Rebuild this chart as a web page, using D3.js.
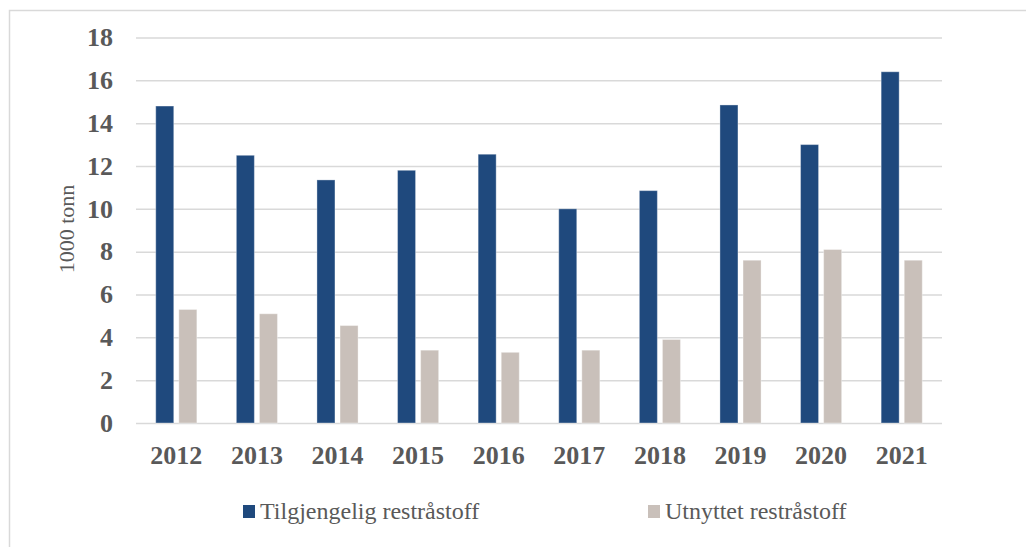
<!DOCTYPE html>
<html>
<head>
<meta charset="utf-8">
<script src="https://cdn.jsdelivr.net/npm/d3@7"></script>
<style>
  body { margin: 0; background: #fff; }
  svg { display: block; }
  text { font-family: "Liberation Serif", "Times New Roman", serif; fill: #595959; }
</style>
</head>
<body>
<svg class="chart" width="1026" height="547"></svg>
<script>
const years = ['2012', '2013', '2014', '2015', '2016', '2017', '2018', '2019', '2020', '2021'];
const tilgjengelig = [14.8, 12.5, 11.35, 11.8, 12.55, 10.0, 10.85, 14.85, 13.0, 16.4];
const utnyttet = [5.3, 5.1, 4.55, 3.4, 3.3, 3.4, 3.9, 7.6, 8.1, 7.6];
const seriesNames = ['Tilgjengelig restråstoff', 'Utnyttet restråstoff'];
const seriesColors = ['#1f497d', '#c9c0ba'];
const yTicks = [0, 2, 4, 6, 8, 10, 12, 14, 16, 18];

const startApp = () => {
  const svg = d3.select('.chart');
  const plot = { left: 136, right: 942, top: 37.5, bottom: 423 };

  // outer frame (only top and left visible)
  svg.append('path')
    .attr('d', 'M9.5,547 V10.5 H1026')
    .attr('fill', 'none')
    .attr('stroke', '#d9d9d9')
    .attr('stroke-width', 1.5);

  const x0 = d3.scaleBand().domain(years).range([plot.left, plot.right])
    .paddingInner(0.49).paddingOuter(0.245);
  const x1 = d3.scaleBand().domain([0, 1]).range([0, x0.bandwidth()]).paddingInner(0.22);
  const y = d3.scaleLinear().domain([0, 18]).range([plot.bottom, plot.top]);

  // gridlines + y labels
  const yAxis = d3.axisLeft(y).tickValues(yTicks).tickSize(-(plot.right - plot.left)).tickPadding(23);
  const gy = svg.append('g').attr('transform', `translate(${plot.left},0)`).call(yAxis)
    .attr('font-size', null).attr('font-family', null);
  gy.select('.domain').remove();
  gy.selectAll('.tick line').attr('stroke', '#d9d9d9').attr('stroke-width', 1.5);
  gy.selectAll('.tick text')
    .attr('font-size', 26).attr('font-weight', 'bold')
    .attr('fill', '#595959');

  // bars
  const series = [tilgjengelig, utnyttet];
  const groups = svg.append('g').selectAll('g')
    .data(years)
    .join('g')
    .attr('transform', d => `translate(${x0(d)},0)`);

  groups.selectAll('rect')
    .data((d, i) => series.map((s, k) => ({ k, v: s[i] })))
    .join('rect')
    .attr('x', d => x1(d.k))
    .attr('y', d => y(d.v))
    .attr('width', x1.bandwidth())
    .attr('height', d => y(0) - y(d.v))
    .attr('fill', d => seriesColors[d.k])
    .attr('stroke', 'rgba(255,255,255,0.35)')
    .attr('stroke-width', 1);

  // x labels
  const xAxis = d3.axisBottom(x0).tickSize(0).tickPadding(23);
  const gx = svg.append('g').attr('transform', `translate(0,${plot.bottom})`).call(xAxis)
    .attr('font-size', null).attr('font-family', null);
  gx.select('.domain').remove();
  gx.selectAll('.tick text')
    .attr('font-size', 26).attr('font-weight', 'bold')
    .attr('fill', '#595959');

  // y axis title
  svg.append('text')
    .attr('transform', 'translate(74,229) rotate(-90)')
    .attr('text-anchor', 'middle')
    .attr('font-size', 22)
    .text('1000 tonn');

  // legend
  const legendX = [243, 648];
  const legend = svg.append('g').selectAll('g')
    .data(seriesNames)
    .join('g')
    .attr('transform', (d, i) => `translate(${legendX[i]},505)`);
  legend.append('rect')
    .attr('width', 12).attr('height', 13)
    .attr('fill', (d, i) => seriesColors[i]);
  legend.append('text')
    .attr('x', 17).attr('y', 14)
    .attr('font-size', 24)
    .text(d => d);
};

window.onload = startApp;
</script>
</body>
</html>
